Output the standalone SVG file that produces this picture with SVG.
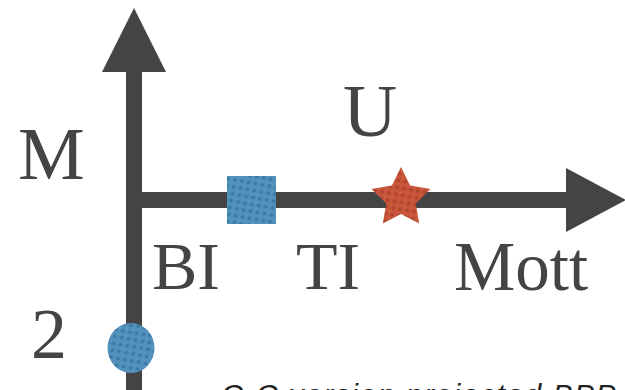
<svg xmlns="http://www.w3.org/2000/svg" width="625" height="390" viewBox="0 0 625 390">
<defs>
<style>
.lbl{font-family:"Liberation Serif","Times New Roman",serif;fill:#444;}
.ax{fill:#444;}
.cap{font-family:"Liberation Sans",Arial,sans-serif;font-style:italic;fill:#222;font-size:30px;letter-spacing:1.5px;}
</style>
<pattern id="pb" width="7" height="7" patternUnits="userSpaceOnUse" patternTransform="rotate(10)">
<rect width="7" height="7" fill="#5090bb"/>
<circle cx="3.5" cy="3.5" r="1.8" fill="#3a77a2"/>
<circle cx="0" cy="0" r="1.2" fill="#6aa3c9"/>
</pattern>
<pattern id="pr" width="7" height="7" patternUnits="userSpaceOnUse" patternTransform="rotate(10)">
<rect width="7" height="7" fill="#c8553a"/>
<circle cx="3.5" cy="3.5" r="1.8" fill="#ae432c"/>
<circle cx="0" cy="0" r="1.2" fill="#d66f56"/>
</pattern>
</defs>
<rect width="625" height="390" fill="#fff"/>
<g id="axes">
<rect class="ax" x="126" y="70" width="16" height="330"/>
<polygon class="ax" points="134,8 166,72 102,72"/>
<rect class="ax" x="134" y="192" width="436" height="16"/>
<polygon class="ax" points="626,200 566,168 566,232"/>
</g>
<g id="bi-point"><ellipse cx="131" cy="348" rx="23.5" ry="25" fill="url(#pb)"/></g>
<g id="ti-point"><rect x="227" y="176" width="49" height="48" fill="url(#pb)"/></g>
<g id="mott-point"><polygon fill="url(#pr)" points="401,167 410.1,185.6 430.5,188.9 415.7,203.4 419.2,223.6 401,214 382.8,223.6 386.3,203.4 371.5,188.9 391.9,185.6"/></g>
<g id="labels">
<text class="lbl" x="18" y="179" font-size="75">M</text>
<text class="lbl" x="343" y="136" font-size="75">U</text>
<text class="lbl" x="152" y="289" font-size="68">BI</text>
<text class="lbl" x="296" y="289" font-size="68">TI</text>
<text class="lbl" x="454" y="290" font-size="69">Mott</text>
<text class="lbl" x="31" y="358" font-size="72">2</text>
</g>
<text class="cap" x="221" y="405">C-C version projected BPP</text>
</svg>
